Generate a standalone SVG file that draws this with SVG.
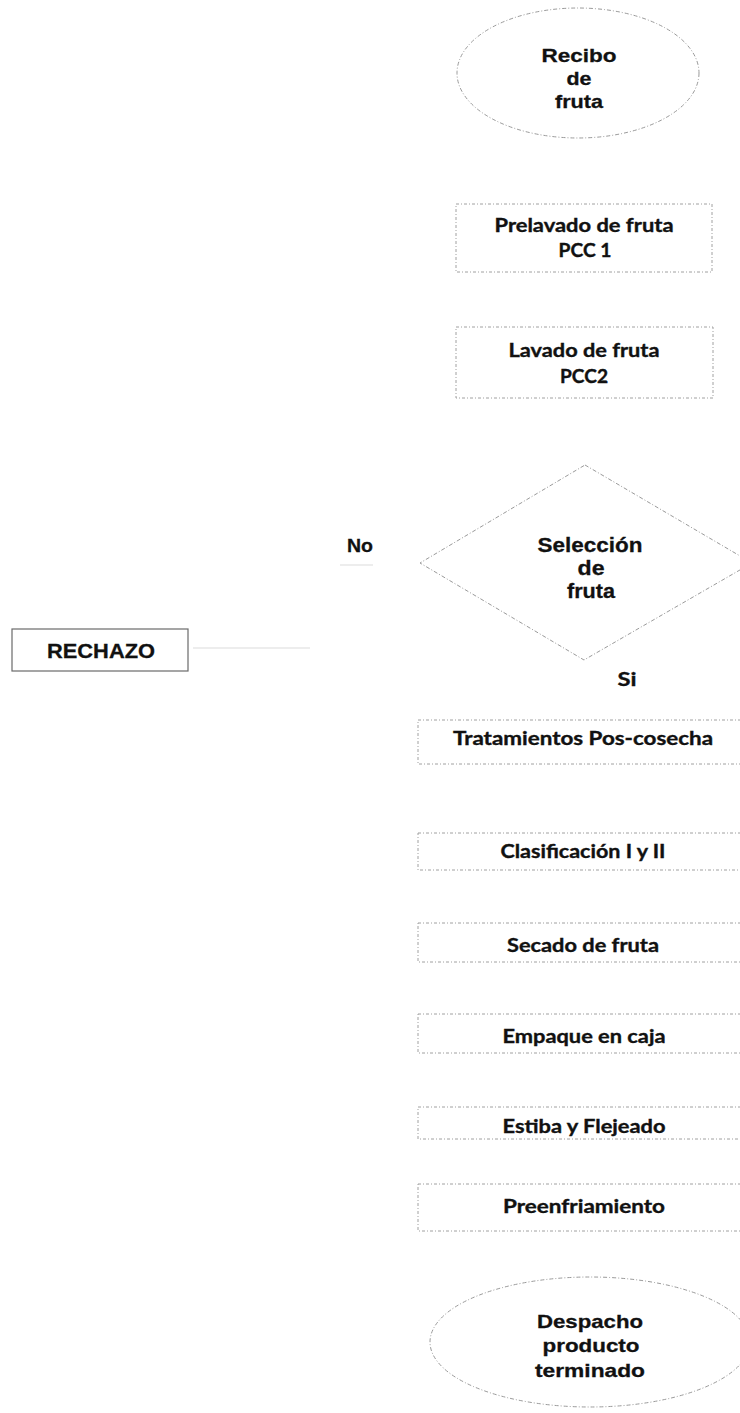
<svg xmlns="http://www.w3.org/2000/svg" width="740" height="1413" viewBox="0 0 740 1413">
<style>
.bg{fill:#ffffff}
.shape{fill:#ffffff;stroke:#9a9a9a;stroke-width:1;stroke-dasharray:4 2 1 2}
.box{fill:#ffffff;stroke:#a0a0a0;stroke-width:1;stroke-dasharray:3 2 1 2}
.rej{fill:#ffffff;stroke:#6a6a6a;stroke-width:1.2}
.conn{fill:none;stroke:#dcdcdc;stroke-width:1.2}
.ar{font-family:"Liberation Sans",Arial,sans-serif;font-weight:bold;font-size:19px;fill:#111111;stroke:#111111;stroke-width:0.3;text-anchor:middle}
.ca{font-family:Lato,"Open Sans","Noto Sans",sans-serif;font-weight:bold;font-size:18px;fill:#111111;stroke:#111111;stroke-width:0.35;text-anchor:middle}
.big{font-size:21px}
.rj{font-size:20px}
</style>
<rect class="bg" x="0" y="0" width="740" height="1413"/>

<g id="connectors">
  <line class="conn" x1="193" y1="648" x2="310" y2="648"/>
  <line class="conn" x1="340" y1="565" x2="373" y2="565"/>
</g>

<g id="recibo">
  <ellipse class="shape" cx="578" cy="73" rx="121" ry="65"/>
  <text class="ar" x="579" y="62" textLength="75" lengthAdjust="spacingAndGlyphs">Recibo</text>
  <text class="ar" x="579" y="85" textLength="25" lengthAdjust="spacingAndGlyphs">de</text>
  <text class="ar" x="579" y="108" textLength="48" lengthAdjust="spacingAndGlyphs">fruta</text>
</g>

<g id="prelavado">
  <rect class="box" x="456" y="204" width="256" height="68"/>
  <text class="ca" x="584" y="232" textLength="179" lengthAdjust="spacingAndGlyphs">Prelavado de fruta</text>
  <text class="ca" x="585" y="257" textLength="53" lengthAdjust="spacingAndGlyphs">PCC 1</text>
</g>

<g id="lavado">
  <rect class="box" x="456" y="327" width="257" height="71"/>
  <text class="ca" x="584" y="357" textLength="151" lengthAdjust="spacingAndGlyphs">Lavado de fruta</text>
  <text class="ca" x="584" y="383" textLength="48" lengthAdjust="spacingAndGlyphs">PCC2</text>
</g>

<g id="seleccion">
  <polygon class="shape" points="585,465 752,563 584,660 420,563"/>
  <text class="ar big" x="590" y="552" textLength="105" lengthAdjust="spacingAndGlyphs">Selección</text>
  <text class="ar big" x="591" y="575" textLength="27" lengthAdjust="spacingAndGlyphs">de</text>
  <text class="ar big" x="591" y="598" textLength="48" lengthAdjust="spacingAndGlyphs">fruta</text>
</g>

<g id="label-no">
  <text class="ar" x="360" y="552" textLength="26" lengthAdjust="spacingAndGlyphs">No</text>
</g>

<g id="rechazo">
  <rect class="rej" x="12" y="629" width="176" height="42"/>
  <text class="ar rj" x="101" y="658" textLength="108" lengthAdjust="spacingAndGlyphs">RECHAZO</text>
</g>

<g id="label-si">
  <text class="ca" x="627" y="686" textLength="19" lengthAdjust="spacingAndGlyphs">Si</text>
</g>

<g id="tratamientos">
  <rect class="box" x="418" y="720" width="332" height="44"/>
  <text class="ca" x="583" y="745" textLength="260" lengthAdjust="spacingAndGlyphs">Tratamientos  Pos-cosecha</text>
</g>

<g id="clasificacion">
  <rect class="box" x="418" y="833" width="332" height="37"/>
  <text class="ca" x="583" y="858" textLength="165" lengthAdjust="spacingAndGlyphs">Clasificación I y II</text>
</g>

<g id="secado">
  <rect class="box" x="418" y="923" width="332" height="39"/>
  <text class="ca" x="583" y="952" textLength="152" lengthAdjust="spacingAndGlyphs">Secado de fruta</text>
</g>

<g id="empaque">
  <rect class="box" x="418" y="1014" width="332" height="39"/>
  <text class="ca" x="584" y="1043" textLength="163" lengthAdjust="spacingAndGlyphs">Empaque en caja</text>
</g>

<g id="estiba">
  <rect class="box" x="418" y="1107" width="332" height="32"/>
  <text class="ca" x="584" y="1133" textLength="163" lengthAdjust="spacingAndGlyphs">Estiba y Flejeado</text>
</g>

<g id="preenfriamiento">
  <rect class="box" x="418" y="1184" width="332" height="47"/>
  <text class="ca" x="584" y="1213" textLength="162" lengthAdjust="spacingAndGlyphs">Preenfriamiento</text>
</g>

<g id="despacho">
  <ellipse class="shape" cx="590" cy="1342" rx="160" ry="65"/>
  <text class="ar" x="590" y="1328" textLength="106" lengthAdjust="spacingAndGlyphs">Despacho</text>
  <text class="ar" x="591" y="1352" textLength="97" lengthAdjust="spacingAndGlyphs">producto</text>
  <text class="ar" x="590" y="1377" textLength="110" lengthAdjust="spacingAndGlyphs">terminado</text>
</g>
</svg>
